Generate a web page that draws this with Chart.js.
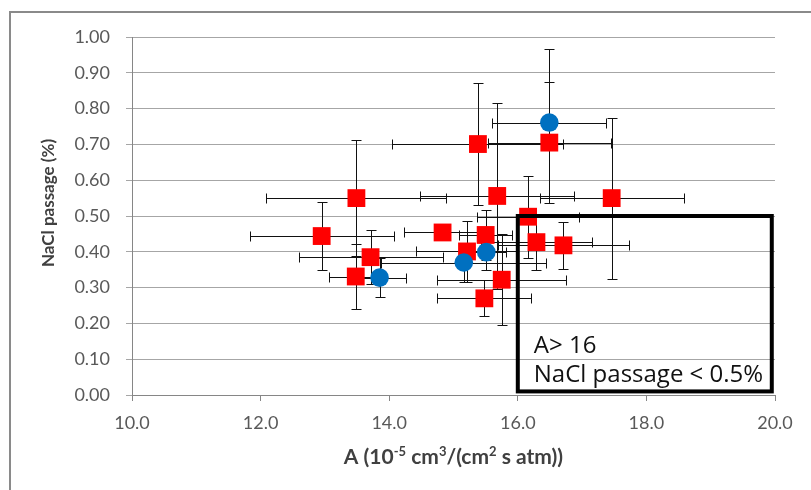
<!DOCTYPE html>
<html>
<head>
<meta charset="utf-8">
<script src="https://cdn.jsdelivr.net/npm/chart.js@4/dist/chart.umd.min.js"></script>
<style>
html,body{margin:0;padding:0;background:#fff;overflow:hidden}
#wrap{position:relative;width:811px;height:490px}
#frame{position:absolute;left:9px;top:11px;width:900px;height:600px;border:2px solid #8a8a8a;pointer-events:none}
</style>
</head>
<body>
<div id="wrap">
  <canvas id="chart" width="811" height="490" style="width:811px;height:490px"></canvas>
  <div id="frame"></div>
</div>
<script>
// NaCl passage vs A - scatter with x/y error bars

// red squares
const redX    = [12.95, 13.49, 13.48, 13.71, 14.83, 15.21, 15.38, 15.50, 15.48, 15.68, 15.75, 16.16, 16.29, 16.49, 16.71, 17.46];
const redY    = [0.444, 0.550, 0.331, 0.385, 0.454, 0.401, 0.701, 0.447, 0.270, 0.556, 0.322, 0.498, 0.427, 0.705, 0.418, 0.550];
const redXErr = [1.12, 1.40, 0.42, 1.12, 0.60, 0.80, 1.33, 0.41, 0.73, 1.20, 1.00, 0.79, 0.86, 0.96, 1.02, 1.12];
const redYErr = [0.095, 0.163, 0.090, 0.075, 0.020, 0.085, 0.170, 0.070, 0.050, 0.260, 0.127, 0.115, 0.077, 0.170, 0.065, 0.225];

// blue circles
const blueX    = [13.85, 15.16, 15.51, 16.49];
const blueY    = [0.328, 0.370, 0.399, 0.761];
const blueXErr = [0.41, 1.28, 0.30, 0.885];
const blueYErr = [0.055, 0.053, 0.050, 0.206];

// target region box
const boxX = [16, 19.95];
const boxY = [0.01, 0.5];
const boxText = ['A> 16', 'NaCl passage < 0.5%'];

const xTicks = [10, 12, 14, 16, 18, 20];
const yTicks = [0, 0.1, 0.2, 0.3, 0.4, 0.5, 0.6, 0.7, 0.8, 0.9, 1.0];

// x title pieces: [text, superscript?]
const xTitle = [['A (10', 0], ['-5', 1], [' cm', 0], ['3', 1], ['/(cm', 0], ['2', 1], [' s atm))', 0]];
const yTitle = 'NaCl passage (%)';

const FONT = 'Lato';

function toPoints(xs, ys, xe, ye){
  return xs.map((v,i) => ({x: v, y: ys[i], xErr: xe[i], yErr: ye[i]}));
}

const errorBars = {
  id: 'errorBars',
  beforeDatasetsDraw(chart){
    const {ctx, scales:{x, y}} = chart;
    const cap = 5;
    const r = v => Math.round(v) + 0.5;
    ctx.save();
    ctx.strokeStyle = '#111';
    ctx.lineWidth = 1;
    chart.data.datasets.forEach(ds => {
      ds.data.forEach(p => {
        const px = r(x.getPixelForValue(p.x)), py = r(y.getPixelForValue(p.y));
        const xl = r(x.getPixelForValue(p.x - p.xErr)), xr = r(x.getPixelForValue(p.x + p.xErr));
        const yb = r(y.getPixelForValue(p.y - p.yErr)), yt = r(y.getPixelForValue(p.y + p.yErr));
        ctx.beginPath();
        ctx.moveTo(xl, py); ctx.lineTo(xr, py);
        ctx.moveTo(xl, py - cap); ctx.lineTo(xl, py + cap);
        ctx.moveTo(xr, py - cap); ctx.lineTo(xr, py + cap);
        ctx.moveTo(px, yt); ctx.lineTo(px, yb);
        ctx.moveTo(px - cap, yt); ctx.lineTo(px + cap, yt);
        ctx.moveTo(px - cap, yb); ctx.lineTo(px + cap, yb);
        ctx.stroke();
      });
    });
    ctx.restore();
  }
};

const regionBox = {
  id: 'regionBox',
  afterDatasetsDraw(chart){
    const {ctx, scales:{x, y}} = chart;
    const x0 = x.getPixelForValue(boxX[0]), x1 = x.getPixelForValue(boxX[1]);
    const y0 = y.getPixelForValue(boxY[1]), y1 = y.getPixelForValue(boxY[0]);
    ctx.save();
    ctx.strokeStyle = '#000';
    ctx.lineWidth = 4;
    ctx.strokeRect(x0, y0, x1 - x0, y1 - y0);
    ctx.fillStyle = '#111';
    ctx.font = '24px "Open Sans"';
    ctx.textBaseline = 'alphabetic';
    ctx.fillText(boxText[0], x0 + 16, y1 - 38);
    ctx.fillText(boxText[1], x0 + 16, y1 - 9);
    ctx.restore();
  }
};

// axis titles drawn by hand (x has real superscripts)
const axisTitles = {
  id: 'axisTitles',
  afterDraw(chart){
    const {ctx, chartArea} = chart;
    const main = 'bold 21px ' + FONT, sup = 'bold 13px ' + FONT;
    ctx.save();
    ctx.fillStyle = '#404040';
    ctx.textBaseline = 'alphabetic';
    let w = 0;
    xTitle.forEach(([t, s]) => { ctx.font = s ? sup : main; w += ctx.measureText(t).width; });
    let cx = (chartArea.left + chartArea.right) / 2 - w / 2;
    const base = 464;
    xTitle.forEach(([t, s]) => {
      ctx.font = s ? sup : main;
      ctx.fillText(t, cx, s ? base - 8 : base);
      cx += ctx.measureText(t).width;
    });

    ctx.translate(49, (chartArea.top + chartArea.bottom) / 2 - 13);
    ctx.rotate(-Math.PI / 2);
    ctx.font = 'bold 17px ' + FONT;
    ctx.textAlign = 'center';
    ctx.textBaseline = 'middle';
    ctx.fillText(yTitle, 0, 0);
    ctx.restore();
  }
};

new Chart(document.getElementById('chart'), {
  type: 'scatter',
  data: {
    datasets: [
      { label: 'blue', data: toPoints(blueX, blueY, blueXErr, blueYErr),
        pointStyle: 'circle', pointRadius: 9.3, pointHoverRadius: 9.3,
        backgroundColor: '#0070C0', borderWidth: 0 },
      { label: 'red', data: toPoints(redX, redY, redXErr, redYErr),
        pointStyle: 'rect', pointRadius: 12.6, pointHoverRadius: 12.6,
        backgroundColor: '#FF0000', borderWidth: 0 }
    ]
  },
  options: {
    responsive: false,
    animation: false,
    layout: { padding: { top: 37, right: 36, bottom: 0, left: 0 } },
    plugins: { legend: { display: false }, tooltip: { enabled: false } },
    scales: {
      x: {
        type: 'linear', min: 10, max: 20,
        afterBuildTicks: s => { s.ticks = xTicks.map(v => ({value: v})); },
        afterFit: s => { s.height = 95; },
        ticks: { callback: v => Number(v).toFixed(1), color: '#595959', font: { family: FONT, size: 18 }, padding: 11 },
        grid: { drawOnChartArea: false, drawTicks: true, tickLength: 6, color: '#868686' },
        border: { color: '#868686', width: 1 },
        title: { display: false }
      },
      y: {
        type: 'linear', min: 0, max: 1,
        afterBuildTicks: s => { s.ticks = yTicks.map(v => ({value: v})); },
        afterFit: s => { s.width = 132; },
        ticks: { callback: v => Number(v).toFixed(2), color: '#595959', font: { family: FONT, size: 18 }, padding: 16 },
        grid: { color: '#a6a6a6', tickLength: 6 },
        border: { color: '#868686', width: 1 },
        title: { display: false }
      }
    }
  },
  plugins: [errorBars, regionBox, axisTitles]
});
</script>
</body>
</html>
